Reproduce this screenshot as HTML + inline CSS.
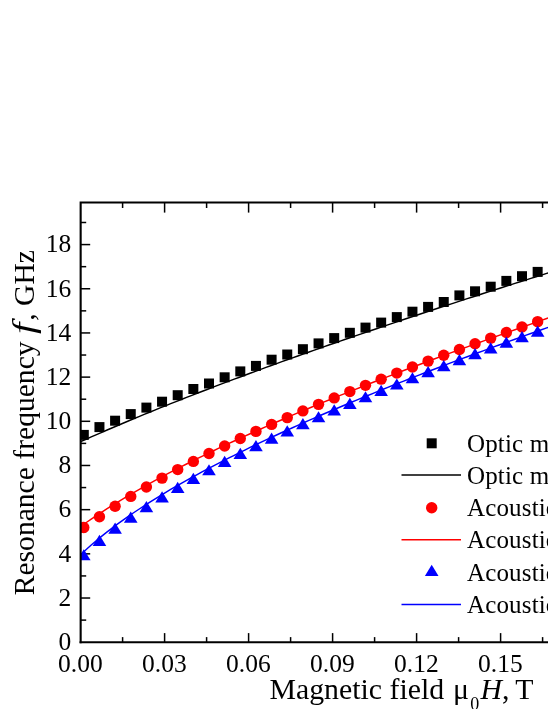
<!DOCTYPE html>
<html><head><meta charset="utf-8"><title>chart</title>
<style>
html,body{margin:0;padding:0;background:#fff;}
body{width:548px;height:709px;overflow:hidden;position:relative;font-family:"Liberation Serif",serif;}
svg{position:absolute;left:0;top:0;will-change:transform;}
text{font-family:"Liberation Serif",serif;fill:#000;}
</style></head><body>
<svg width="548" height="709" viewBox="0 0 548 709">
<rect width="548" height="709" fill="#fff"/>

<g stroke="#000" stroke-width="1.5" fill="none">
<path d="M81,620.11 h5.2"/>
<path d="M81,598.02 h9.2"/>
<path d="M81,575.93 h5.2"/>
<path d="M81,553.84 h9.2"/>
<path d="M81,531.75 h5.2"/>
<path d="M81,509.66 h9.2"/>
<path d="M81,487.57 h5.2"/>
<path d="M81,465.48 h9.2"/>
<path d="M81,443.39 h5.2"/>
<path d="M81,421.30 h9.2"/>
<path d="M81,399.21 h5.2"/>
<path d="M81,377.12 h9.2"/>
<path d="M81,355.03 h5.2"/>
<path d="M81,332.94 h9.2"/>
<path d="M81,310.85 h5.2"/>
<path d="M81,288.76 h9.2"/>
<path d="M81,266.67 h5.2"/>
<path d="M81,244.58 h9.2"/>
<path d="M81,222.49 h5.2"/>
<path d="M122.6,642 v-4.9"/>
<path d="M122.6,202.5 v5.5"/>
<path d="M164.6,642 v-8.9"/>
<path d="M164.6,202.5 v10.1"/>
<path d="M206.6,642 v-4.9"/>
<path d="M206.6,202.5 v5.5"/>
<path d="M248.6,642 v-8.9"/>
<path d="M248.6,202.5 v10.1"/>
<path d="M290.6,642 v-4.9"/>
<path d="M290.6,202.5 v5.5"/>
<path d="M332.6,642 v-8.9"/>
<path d="M332.6,202.5 v10.1"/>
<path d="M374.6,642 v-4.9"/>
<path d="M374.6,202.5 v5.5"/>
<path d="M416.6,642 v-8.9"/>
<path d="M416.6,202.5 v10.1"/>
<path d="M458.6,642 v-4.9"/>
<path d="M458.6,202.5 v5.5"/>
<path d="M500.6,642 v-8.9"/>
<path d="M500.6,202.5 v10.1"/>
<path d="M542.6,642 v-4.9"/>
<path d="M542.6,202.5 v5.5"/>
</g>
<clipPath id="c"><rect x="80.65" y="203" width="480" height="439"/></clipPath><g clip-path="url(#c)">
<rect x="78.80" y="429.90" width="10" height="10" fill="#000"/>
<rect x="94.45" y="422.10" width="10" height="10" fill="#000"/>
<rect x="110.10" y="415.70" width="10" height="10" fill="#000"/>
<rect x="125.75" y="409.10" width="10" height="10" fill="#000"/>
<rect x="141.40" y="402.60" width="10" height="10" fill="#000"/>
<rect x="157.05" y="396.70" width="10" height="10" fill="#000"/>
<rect x="172.70" y="390.20" width="10" height="10" fill="#000"/>
<rect x="188.35" y="384.00" width="10" height="10" fill="#000"/>
<rect x="204.00" y="378.50" width="10" height="10" fill="#000"/>
<rect x="219.65" y="372.30" width="10" height="10" fill="#000"/>
<rect x="235.30" y="366.40" width="10" height="10" fill="#000"/>
<rect x="250.95" y="360.90" width="10" height="10" fill="#000"/>
<rect x="266.60" y="354.70" width="10" height="10" fill="#000"/>
<rect x="282.25" y="349.50" width="10" height="10" fill="#000"/>
<rect x="297.90" y="344.20" width="10" height="10" fill="#000"/>
<rect x="313.55" y="338.40" width="10" height="10" fill="#000"/>
<rect x="329.20" y="333.10" width="10" height="10" fill="#000"/>
<rect x="344.85" y="327.80" width="10" height="10" fill="#000"/>
<rect x="360.50" y="322.60" width="10" height="10" fill="#000"/>
<rect x="376.15" y="317.60" width="10" height="10" fill="#000"/>
<rect x="391.80" y="312.10" width="10" height="10" fill="#000"/>
<rect x="407.45" y="306.70" width="10" height="10" fill="#000"/>
<rect x="423.10" y="301.90" width="10" height="10" fill="#000"/>
<rect x="438.75" y="297.00" width="10" height="10" fill="#000"/>
<rect x="454.40" y="290.40" width="10" height="10" fill="#000"/>
<rect x="470.05" y="286.30" width="10" height="10" fill="#000"/>
<rect x="485.70" y="281.70" width="10" height="10" fill="#000"/>
<rect x="501.35" y="275.90" width="10" height="10" fill="#000"/>
<rect x="517.00" y="271.20" width="10" height="10" fill="#000"/>
<rect x="532.65" y="266.90" width="10" height="10" fill="#000"/>
<path d="M80.65,441.65 L85.95,439.28 L91.24,436.93 L96.54,434.60 L101.83,432.29 L107.13,430.00 L112.43,427.72 L117.72,425.46 L123.02,423.22 L128.31,420.99 L133.61,418.78 L138.91,416.58 L144.20,414.40 L149.50,412.23 L154.79,410.08 L160.09,407.93 L165.39,405.81 L170.68,403.69 L175.98,401.59 L181.28,399.50 L186.57,397.42 L191.87,395.35 L197.16,393.29 L202.46,391.24 L207.76,389.21 L213.05,387.18 L218.35,385.17 L223.64,383.16 L228.94,381.16 L234.24,379.18 L239.53,377.20 L244.83,375.23 L250.12,373.27 L255.42,371.32 L260.72,369.38 L266.01,367.44 L271.31,365.51 L276.60,363.59 L281.90,361.68 L287.20,359.78 L292.49,357.88 L297.79,355.99 L303.08,354.11 L308.38,352.24 L313.68,350.37 L318.97,348.51 L324.27,346.65 L329.57,344.80 L334.86,342.96 L340.16,341.13 L345.45,339.30 L350.75,337.47 L356.05,335.66 L361.34,333.84 L366.64,332.04 L371.93,330.24 L377.23,328.44 L382.53,326.65 L387.82,324.87 L393.12,323.09 L398.41,321.31 L403.71,319.54 L409.01,317.78 L414.30,316.02 L419.60,314.27 L424.89,312.52 L430.19,310.77 L435.49,309.03 L440.78,307.29 L446.08,305.56 L451.37,303.83 L456.67,302.11 L461.97,300.39 L467.26,298.68 L472.56,296.97 L477.86,295.26 L483.15,293.56 L488.45,291.86 L493.74,290.17 L499.04,288.48 L504.34,286.79 L509.63,285.11 L514.93,283.43 L520.22,281.75 L525.52,280.08 L530.82,278.41 L536.11,276.74 L541.41,275.08 L546.70,273.42 L552.00,271.77" fill="none" stroke="#000" stroke-width="1.45"/>
<circle cx="83.80" cy="527.54" r="5.7" fill="#f00"/>
<circle cx="99.45" cy="516.68" r="5.7" fill="#f00"/>
<circle cx="115.10" cy="506.28" r="5.7" fill="#f00"/>
<circle cx="130.75" cy="496.42" r="5.7" fill="#f00"/>
<circle cx="146.40" cy="487.05" r="5.7" fill="#f00"/>
<circle cx="162.05" cy="478.12" r="5.7" fill="#f00"/>
<circle cx="177.70" cy="469.59" r="5.7" fill="#f00"/>
<circle cx="193.35" cy="461.41" r="5.7" fill="#f00"/>
<circle cx="209.00" cy="453.54" r="5.7" fill="#f00"/>
<circle cx="224.65" cy="445.93" r="5.7" fill="#f00"/>
<circle cx="240.30" cy="438.56" r="5.7" fill="#f00"/>
<circle cx="255.95" cy="431.40" r="5.7" fill="#f00"/>
<circle cx="271.60" cy="424.42" r="5.7" fill="#f00"/>
<circle cx="287.25" cy="417.60" r="5.7" fill="#f00"/>
<circle cx="302.90" cy="410.92" r="5.7" fill="#f00"/>
<circle cx="318.55" cy="404.36" r="5.7" fill="#f00"/>
<circle cx="334.20" cy="397.92" r="5.7" fill="#f00"/>
<circle cx="349.85" cy="391.58" r="5.7" fill="#f00"/>
<circle cx="365.50" cy="385.33" r="5.7" fill="#f00"/>
<circle cx="381.15" cy="379.17" r="5.7" fill="#f00"/>
<circle cx="396.80" cy="373.08" r="5.7" fill="#f00"/>
<circle cx="412.45" cy="367.07" r="5.7" fill="#f00"/>
<circle cx="428.10" cy="361.14" r="5.7" fill="#f00"/>
<circle cx="443.75" cy="355.27" r="5.7" fill="#f00"/>
<circle cx="459.40" cy="349.47" r="5.7" fill="#f00"/>
<circle cx="475.05" cy="343.75" r="5.7" fill="#f00"/>
<circle cx="490.70" cy="338.10" r="5.7" fill="#f00"/>
<circle cx="506.35" cy="332.53" r="5.7" fill="#f00"/>
<circle cx="522.00" cy="327.03" r="5.7" fill="#f00"/>
<circle cx="537.65" cy="321.63" r="5.7" fill="#f00"/>
<path d="M80.65,526.54 L85.95,522.78 L91.24,519.11 L96.54,515.54 L101.83,512.05 L107.13,508.64 L112.43,505.30 L117.72,502.03 L123.02,498.82 L128.31,495.67 L133.61,492.57 L138.91,489.53 L144.20,486.53 L149.50,483.58 L154.79,480.67 L160.09,477.80 L165.39,474.97 L170.68,472.18 L175.98,469.42 L181.28,466.70 L186.57,464.01 L191.87,461.35 L197.16,458.71 L202.46,456.11 L207.76,453.53 L213.05,450.98 L218.35,448.45 L223.64,445.95 L228.94,443.46 L234.24,441.00 L239.53,438.56 L244.83,436.15 L250.12,433.75 L255.42,431.37 L260.72,429.01 L266.01,426.66 L271.31,424.33 L276.60,422.02 L281.90,419.73 L287.20,417.45 L292.49,415.19 L297.79,412.94 L303.08,410.71 L308.38,408.49 L313.68,406.28 L318.97,404.08 L324.27,401.90 L329.57,399.73 L334.86,397.58 L340.16,395.43 L345.45,393.30 L350.75,391.18 L356.05,389.06 L361.34,386.96 L366.64,384.87 L371.93,382.79 L377.23,380.72 L382.53,378.66 L387.82,376.61 L393.12,374.56 L398.41,372.53 L403.71,370.51 L409.01,368.49 L414.30,366.48 L419.60,364.48 L424.89,362.49 L430.19,360.50 L435.49,358.53 L440.78,356.56 L446.08,354.60 L451.37,352.64 L456.67,350.70 L461.97,348.76 L467.26,346.82 L472.56,344.90 L477.86,342.98 L483.15,341.06 L488.45,339.15 L493.74,337.25 L499.04,335.36 L504.34,333.47 L509.63,331.58 L514.93,329.71 L520.22,327.83 L525.52,325.97 L530.82,324.11 L536.11,322.25 L541.41,320.40 L546.70,318.55 L552.00,316.71" fill="none" stroke="#f00" stroke-width="1.45"/>
<path d="M83.80,549.13 L90.60,560.33 L77.00,560.33Z" fill="#00f"/>
<path d="M99.45,534.81 L106.25,546.01 L92.65,546.01Z" fill="#00f"/>
<path d="M115.10,522.62 L121.90,533.82 L108.30,533.82Z" fill="#00f"/>
<path d="M130.75,511.49 L137.55,522.69 L123.95,522.69Z" fill="#00f"/>
<path d="M146.40,501.08 L153.20,512.28 L139.60,512.28Z" fill="#00f"/>
<path d="M162.05,491.21 L168.85,502.41 L155.25,502.41Z" fill="#00f"/>
<path d="M177.70,481.80 L184.50,493.00 L170.90,493.00Z" fill="#00f"/>
<path d="M193.35,472.80 L200.15,484.00 L186.55,484.00Z" fill="#00f"/>
<path d="M209.00,464.15 L215.80,475.35 L202.20,475.35Z" fill="#00f"/>
<path d="M224.65,455.83 L231.45,467.03 L217.85,467.03Z" fill="#00f"/>
<path d="M240.30,447.81 L247.10,459.01 L233.50,459.01Z" fill="#00f"/>
<path d="M255.95,440.04 L262.75,451.24 L249.15,451.24Z" fill="#00f"/>
<path d="M271.60,432.52 L278.40,443.72 L264.80,443.72Z" fill="#00f"/>
<path d="M287.25,425.21 L294.05,436.41 L280.45,436.41Z" fill="#00f"/>
<path d="M302.90,418.09 L309.70,429.29 L296.10,429.29Z" fill="#00f"/>
<path d="M318.55,411.13 L325.35,422.33 L311.75,422.33Z" fill="#00f"/>
<path d="M334.20,404.34 L341.00,415.54 L327.40,415.54Z" fill="#00f"/>
<path d="M349.85,397.68 L356.65,408.88 L343.05,408.88Z" fill="#00f"/>
<path d="M365.50,391.14 L372.30,402.34 L358.70,402.34Z" fill="#00f"/>
<path d="M381.15,384.71 L387.95,395.91 L374.35,395.91Z" fill="#00f"/>
<path d="M396.80,378.38 L403.60,389.58 L390.00,389.58Z" fill="#00f"/>
<path d="M412.45,372.15 L419.25,383.35 L405.65,383.35Z" fill="#00f"/>
<path d="M428.10,366.01 L434.90,377.21 L421.30,377.21Z" fill="#00f"/>
<path d="M443.75,359.95 L450.55,371.15 L436.95,371.15Z" fill="#00f"/>
<path d="M459.40,353.98 L466.20,365.18 L452.60,365.18Z" fill="#00f"/>
<path d="M475.05,348.10 L481.85,359.30 L468.25,359.30Z" fill="#00f"/>
<path d="M490.70,342.30 L497.50,353.50 L483.90,353.50Z" fill="#00f"/>
<path d="M506.35,336.61 L513.15,347.81 L499.55,347.81Z" fill="#00f"/>
<path d="M522.00,331.02 L528.80,342.22 L515.20,342.22Z" fill="#00f"/>
<path d="M537.65,325.54 L544.45,336.74 L530.85,336.74Z" fill="#00f"/>
<path d="M80.65,554.76 L85.95,549.77 L91.24,545.03 L96.54,540.49 L101.83,536.13 L107.13,531.93 L112.43,527.87 L117.72,523.93 L123.02,520.11 L128.31,516.39 L133.61,512.76 L138.91,509.23 L144.20,505.77 L149.50,502.38 L154.79,499.07 L160.09,495.82 L165.39,492.63 L170.68,489.49 L175.98,486.41 L181.28,483.38 L186.57,480.39 L191.87,477.45 L197.16,474.55 L202.46,471.69 L207.76,468.87 L213.05,466.09 L218.35,463.34 L223.64,460.62 L228.94,457.93 L234.24,455.28 L239.53,452.65 L244.83,450.05 L250.12,447.47 L255.42,444.93 L260.72,442.40 L266.01,439.90 L271.31,437.42 L276.60,434.97 L281.90,432.53 L287.20,430.12 L292.49,427.73 L297.79,425.35 L303.08,422.99 L308.38,420.65 L313.68,418.33 L318.97,416.03 L324.27,413.74 L329.57,411.46 L334.86,409.21 L340.16,406.96 L345.45,404.74 L350.75,402.52 L356.05,400.32 L361.34,398.13 L366.64,395.96 L371.93,393.80 L377.23,391.65 L382.53,389.51 L387.82,387.38 L393.12,385.27 L398.41,383.16 L403.71,381.07 L409.01,378.99 L414.30,376.92 L419.60,374.85 L424.89,372.80 L430.19,370.76 L435.49,368.73 L440.78,366.70 L446.08,364.69 L451.37,362.68 L456.67,360.68 L461.97,358.69 L467.26,356.71 L472.56,354.74 L477.86,352.77 L483.15,350.82 L488.45,348.87 L493.74,346.92 L499.04,344.99 L504.34,343.06 L509.63,341.14 L514.93,339.23 L520.22,337.32 L525.52,335.42 L530.82,333.53 L536.11,331.64 L541.41,329.76 L546.70,327.88 L552.00,326.01" fill="none" stroke="#00f" stroke-width="1.45"/>
</g>
<g stroke="#000" stroke-width="2.1" fill="none">
<path d="M80.65,643.3 V202.55 H552"/>
<path d="M79.6,642.25 H552"/>
</g>
<text x="71.2" y="650.00" font-size="25.5" text-anchor="end">0</text>
<text x="71.2" y="605.82" font-size="25.5" text-anchor="end">2</text>
<text x="71.2" y="561.64" font-size="25.5" text-anchor="end">4</text>
<text x="71.2" y="517.46" font-size="25.5" text-anchor="end">6</text>
<text x="71.2" y="473.28" font-size="25.5" text-anchor="end">8</text>
<text x="71.2" y="429.10" font-size="25.5" text-anchor="end">10</text>
<text x="71.2" y="384.92" font-size="25.5" text-anchor="end">12</text>
<text x="71.2" y="340.74" font-size="25.5" text-anchor="end">14</text>
<text x="71.2" y="296.56" font-size="25.5" text-anchor="end">16</text>
<text x="71.2" y="252.38" font-size="25.5" text-anchor="end">18</text>
<text x="80.4" y="672" font-size="25.5" text-anchor="middle">0.00</text>
<text x="164.4" y="672" font-size="25.5" text-anchor="middle">0.03</text>
<text x="248.4" y="672" font-size="25.5" text-anchor="middle">0.06</text>
<text x="332.4" y="672" font-size="25.5" text-anchor="middle">0.09</text>
<text x="416.4" y="672" font-size="25.5" text-anchor="middle">0.12</text>
<text x="500.4" y="672" font-size="25.5" text-anchor="middle">0.15</text>
<text x="269.5" y="699" font-size="29.8">Magnetic field</text>
<text x="452.9" y="699" font-size="29.8">μ</text>
<text x="470.3" y="709.6" font-size="18">0</text>
<text x="480.6" y="699" font-size="29.8" font-style="italic">H</text>
<text x="502" y="699" font-size="29.8">,</text>
<text x="515.2" y="699" font-size="29.8">T</text>
<g transform="translate(33.9,0) rotate(-90)" font-size="29.6">
<text x="-595.3" y="0">Resonance frequency</text>
<text transform="translate(-334,-0.3) scale(1.38,1.07)" x="0" y="0" font-style="italic">f</text>
<text x="-320.7" y="0">, GHz</text>
</g>
<rect x="426.7" y="438.3" width="10" height="10" fill="#000"/>
<path d="M401.5,474.9 H461" stroke="#000" stroke-width="1.45"/>
<circle cx="431.7" cy="507.7" r="5.7" fill="#f00"/>
<path d="M401.5,539.7 H461" stroke="#f00" stroke-width="1.45"/>
<path d="M431.7,564.8 l6.8,11.2 h-13.6Z" fill="#00f"/>
<path d="M401.5,604.4 H461" stroke="#00f" stroke-width="1.45"/>
<text x="467" y="451.60" font-size="25" letter-spacing="0.15">Optic mode, experiment</text>
<text x="467" y="483.85" font-size="25" letter-spacing="0.15">Optic mode, theory</text>
<text x="467" y="516.10" font-size="25" letter-spacing="0.15">Acoustic mode 1, experiment</text>
<text x="467" y="548.35" font-size="25" letter-spacing="0.15">Acoustic mode 1, theory</text>
<text x="467" y="580.60" font-size="25" letter-spacing="0.15">Acoustic mode 2, experiment</text>
<text x="467" y="612.85" font-size="25" letter-spacing="0.15">Acoustic mode 2, theory</text>
</svg></body></html>
